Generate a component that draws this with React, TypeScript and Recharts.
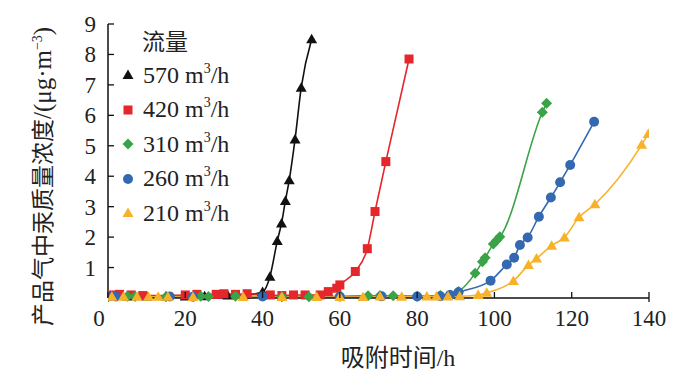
import React from 'react';
import { LineChart, Line, XAxis, YAxis } from 'recharts';

const xTicks = [0, 20, 40, 60, 80, 100, 120, 140];
const yTicks = [1, 2, 3, 4, 5, 6, 7, 8, 9];

const flowNames = ['570', '420', '310', '260', '210'];
const flowColors = ['#111111', '#e5262b', '#3aa346', '#3469b1', '#f7b22a'];
const flowShapes = ['triangle', 'square', 'diamond', 'circle', 'triangle'];

const s570 = [
  { x: 0, y: 0.05 }, { x: 5, y: 0.05 }, { x: 10, y: 0.05 }, { x: 15, y: 0.05 }, { x: 20, y: 0.05 },
  { x: 25, y: 0.06 }, { x: 31, y: 0.08 }, { x: 35.5, y: 0.1 }, { x: 40, y: 0.2 }, { x: 41.9, y: 0.7 },
  { x: 43.8, y: 1.87 }, { x: 44.9, y: 2.45 }, { x: 45.9, y: 3.19 }, { x: 46.9, y: 3.87 },
  { x: 48.4, y: 5.21 }, { x: 50, y: 6.91 }, { x: 52.7, y: 8.5 },
];
const s420 = [
  { x: 1, y: 0.1 }, { x: 3, y: 0.12 }, { x: 6, y: 0.1 }, { x: 9, y: 0.08 }, { x: 20, y: 0.1 },
  { x: 23, y: 0.12 }, { x: 28, y: 0.12 }, { x: 30, y: 0.14 }, { x: 33, y: 0.12 }, { x: 36, y: 0.14 },
  { x: 42, y: 0.1 }, { x: 45, y: 0.08 }, { x: 48, y: 0.1 }, { x: 51, y: 0.1 }, { x: 54.9, y: 0.1 },
  { x: 57, y: 0.21 }, { x: 59.2, y: 0.32 }, { x: 60, y: 0.43 }, { x: 64, y: 0.87 }, { x: 67.1, y: 1.62 },
  { x: 69.1, y: 2.84 }, { x: 71.9, y: 4.48 }, { x: 77.9, y: 7.85 },
];
const s310 = [
  { x: 0, y: 0.03 }, { x: 5, y: 0.06 }, { x: 7, y: 0.05 }, { x: 15, y: 0.04 }, { x: 24, y: 0.06 },
  { x: 26, y: 0.05 }, { x: 33, y: 0.06 }, { x: 45, y: 0.04 }, { x: 52, y: 0.04 }, { x: 67.3, y: 0.07 },
  { x: 70.4, y: 0.08 }, { x: 73.8, y: 0.07 }, { x: 80, y: 0.06 }, { x: 86, y: 0.08 }, { x: 88.5, y: 0.1 },
  { x: 90.7, y: 0.21 }, { x: 95, y: 0.81 }, { x: 96.9, y: 1.19 }, { x: 97.6, y: 1.32 }, { x: 99.7, y: 1.77 },
  { x: 100.6, y: 1.9 }, { x: 101.4, y: 2.01 }, { x: 112.4, y: 6.1 }, { x: 113.5, y: 6.4 },
];
const s260 = [
  { x: 0, y: 0.05 }, { x: 2, y: 0.05 }, { x: 16, y: 0.05 }, { x: 22, y: 0.04 }, { x: 40, y: 0.05 },
  { x: 60, y: 0.05 }, { x: 70.8, y: 0.06 }, { x: 80, y: 0.05 }, { x: 86, y: 0.06 }, { x: 88.5, y: 0.1 },
  { x: 90.7, y: 0.19 }, { x: 99, y: 0.57 }, { x: 103.2, y: 1.1 }, { x: 105.1, y: 1.32 }, { x: 106.6, y: 1.74 },
  { x: 108.6, y: 1.99 }, { x: 111.5, y: 2.67 }, { x: 114.6, y: 3.3 }, { x: 117, y: 3.8 }, { x: 119.6, y: 4.37 },
  { x: 125.8, y: 5.79 },
];
const s210 = [
  { x: 1, y: 0.04 }, { x: 4, y: 0.04 }, { x: 7.5, y: 0.04 }, { x: 10.5, y: 0.04 }, { x: 13, y: 0.04 },
  { x: 15.5, y: 0.04 }, { x: 22, y: 0.03 }, { x: 35, y: 0.03 }, { x: 45, y: 0.03 }, { x: 54, y: 0.03 },
  { x: 60, y: 0.03 }, { x: 66, y: 0.03 }, { x: 70.4, y: 0.05 }, { x: 76, y: 0.04 }, { x: 82.5, y: 0.05 },
  { x: 85, y: 0.05 }, { x: 88, y: 0.05 }, { x: 91, y: 0.06 }, { x: 95.8, y: 0.1 }, { x: 98, y: 0.17 },
  { x: 104.9, y: 0.56 }, { x: 108.8, y: 1.08 }, { x: 110.9, y: 1.3 }, { x: 114.8, y: 1.72 }, { x: 118.1, y: 1.99 },
  { x: 121.9, y: 2.65 }, { x: 126, y: 3.08 }, { x: 138.1, y: 5.03 }, { x: 139.8, y: 5.39 },
];
const seriesData = [s570, s420, s310, s260, s210];

const SERIF = '"Liberation Serif", "Noto Sans CJK SC", serif';

function Marker({ shape, cx, cy, color }: { shape: string; cx: number; cy: number; color: string }) {
  if (cx == null || cy == null || isNaN(cx) || isNaN(cy)) return null;
  if (shape === 'triangle') {
    return <path d={`M${cx},${cy - 5.5} L${cx + 5.5},${cy + 4} L${cx - 5.5},${cy + 4} Z`} fill={color} />;
  }
  if (shape === 'square') {
    return <rect x={cx - 4.5} y={cy - 4.5} width={9} height={9} fill={color} />;
  }
  if (shape === 'diamond') {
    return <path d={`M${cx},${cy - 5.5} L${cx + 5.5},${cy} L${cx},${cy + 5.5} L${cx - 5.5},${cy} Z`} fill={color} />;
  }
  return <circle cx={cx} cy={cy} r={5} fill={color} />;
}

function XTick(props: any) {
  const { x, y, payload } = props;
  const v = payload.value;
  return (
    <g>
      <line x1={x} y1={y} x2={x} y2={y - 6} stroke="#111" strokeWidth={1.3} />
      {v === 140 && <line x1={x} y1={y} x2={x} y2={y + 4} stroke="#111" strokeWidth={1.3} />}
      <text x={v === 0 ? x - 9 : x} y={y + 28} textAnchor="middle" fontSize={23} fontFamily={SERIF} fill="#222">
        {v}
      </text>
    </g>
  );
}

function YTick(props: any) {
  const { x, y, payload } = props;
  return (
    <g>
      <line x1={x} y1={y} x2={x + 6} y2={y} stroke="#111" strokeWidth={1.3} />
      <text x={x - 12} y={y + 8} textAnchor="end" fontSize={23} fontFamily={SERIF} fill="#222">
        {payload.value}
      </text>
    </g>
  );
}

function YLabel() {
  return (
    <text
      transform="translate(51,326) rotate(-90)"
      x={0}
      y={0}
      textAnchor="start"
      fontSize={23}
      fontFamily={SERIF}
      fill="#222"
    >
      产品气中汞质量浓度<tspan fontSize={25}>/(μg·m</tspan>
      <tspan dy={-9} fontSize={14}>−3</tspan>
      <tspan dy={9} fontSize={25}>)</tspan>
    </text>
  );
}

function XLabel() {
  return (
    <text x={398} y={366} textAnchor="middle" fontSize={24} fontFamily={SERIF} fill="#222">
      吸附时间/h
    </text>
  );
}

function LegendSymbol({ shape, color }: { shape: string; color: string }) {
  return (
    <svg width={16} height={16} style={{ display: 'block' }}>
      <Marker shape={shape} cx={8} cy={8} color={color} />
    </svg>
  );
}

export default function App() {
  return (
    <div style={{ position: 'absolute', left: 0, top: 0, width: 700, height: 377, background: '#fff' }}>
      <LineChart width={700} height={377} margin={{ top: 24, right: 51, left: 0, bottom: 0 }}>
        <XAxis
          type="number"
          dataKey="x"
          domain={[0, 140]}
          ticks={xTicks}
          height={79}
          tickSize={0}
          tickMargin={0}
          tickLine={false}
          axisLine={{ stroke: '#111', strokeWidth: 1.5 }}
          tick={<XTick />}
          label={<XLabel />}
          allowDataOverflow
        />
        <YAxis
          type="number"
          dataKey="y"
          domain={[0, 9]}
          ticks={yTicks}
          width={108}
          tickSize={0}
          tickMargin={0}
          tickLine={false}
          axisLine={{ stroke: '#111', strokeWidth: 1.5 }}
          tick={<YTick />}
          label={<YLabel />}
        />
        {seriesData.map((d, i) => (
          <Line
            key={flowNames[i]}
            data={d}
            dataKey="y"
            type="monotone"
            stroke={flowColors[i]}
            strokeWidth={1.6}
            isAnimationActive={false}
            activeDot={false}
            dot={(p: any) => (
              <Marker key={`${i}-${p.index}`} shape={flowShapes[i]} cx={p.cx} cy={p.cy} color={flowColors[i]} />
            )}
          />
        ))}
      </LineChart>
      <div
        style={{
          position: 'absolute',
          left: 142,
          top: 29,
          fontFamily: SERIF,
          fontSize: 23,
          color: '#222',
          lineHeight: '28px',
        }}
      >
        流量
      </div>
      {flowNames.map((n, i) => (
        <div
          key={n}
          style={{
            position: 'absolute',
            left: 120,
            top: 58 + i * 34.5,
            height: 34,
            display: 'flex',
            alignItems: 'center',
            fontFamily: SERIF,
            fontSize: 24,
            color: '#222',
            whiteSpace: 'nowrap',
          }}
        >
          <LegendSymbol shape={flowShapes[i]} color={flowColors[i]} />
          <span style={{ marginLeft: 7 }}>
            {n} m<span style={{ fontSize: 14, position: 'relative', top: -10 }}>3</span>/h
          </span>
        </div>
      ))}
    </div>
  );
}
